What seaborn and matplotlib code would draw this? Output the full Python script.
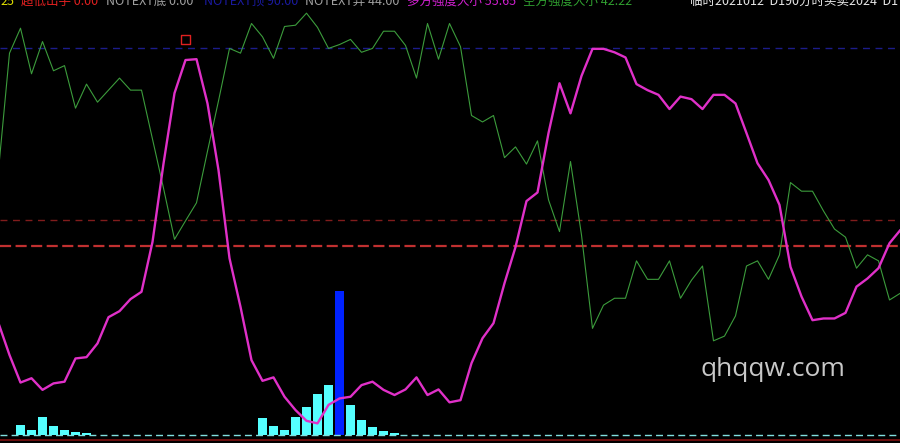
import matplotlib
matplotlib.use("Agg")
import matplotlib.pyplot as plt
import numpy as np
import pandas as pd
import seaborn as sns

# Data
idx = list(range(83))
bull = [26.0, 18.6, 12.2, 13.2, 10.5, 12.0, 12.4, 17.8, 18.1, 21.3,
        27.4, 28.8, 31.6, 33.3, 44.9, 63.1, 79.5, 87.2, 87.4, 77.1,
        61.6, 41.1, 29.8, 17.4, 12.6, 13.4, 8.9, 5.8, 3.3, 2.7,
        7.0, 8.5, 8.9, 11.6, 12.4, 10.5, 9.3, 10.6, 13.4, 9.3,
        10.6, 7.6, 8.1, 16.7, 22.5, 26.0, 35.3, 43.7, 54.4, 56.4,
        70.2, 81.8, 74.8, 83.5, 89.8, 89.8, 89.0, 87.8, 81.6, 80.2,
        79.1, 75.8, 78.7, 78.1, 75.8, 79.1, 79.1, 77.1, 70.2, 63.2,
        59.3, 53.5, 39.1, 32.2, 26.7, 27.1, 27.1, 28.4, 34.5, 36.4,
        38.8, 44.6, 47.7]
bear = [61.6, 88.8, 94.6, 84.0, 91.5, 84.7, 85.9, 76.0, 81.6, 77.4,
        80.2, 83.0, 80.2, 80.2, 68.8, 57.4, 45.5, 49.8, 54.0, 66.0,
        77.7, 89.9, 88.8, 95.7, 92.6, 87.6, 95.0, 95.3, 98.1, 94.8,
        89.9, 90.8, 92.0, 89.0, 89.9, 93.9, 93.9, 90.6, 83.0, 95.7,
        87.4, 95.7, 90.3, 74.3, 72.8, 74.3, 64.5, 67.0, 63.0, 68.4,
        54.7, 47.3, 63.6, 46.5, 24.8, 30.2, 31.8, 31.8, 40.5, 36.2,
        36.2, 40.5, 31.8, 36.0, 39.3, 21.9, 23.0, 27.7, 39.3, 40.5,
        36.2, 41.9, 58.7, 56.7, 56.7, 52.1, 47.9, 46.0, 38.8, 41.9,
        40.5, 31.4, 33.0]
bar_idx = [2, 3, 4, 5, 6, 7, 8, 24, 25, 26, 27, 28, 29, 30, 32, 33, 34, 35, 36]
bar_vals = [2.3, 1.2, 4.1, 2.1, 1.2, 0.7, 0.5, 3.9, 2.1, 1.2, 4.1, 6.6, 9.5, 11.6,
            7.0, 3.5, 1.9, 0.9, 0.5]
big_idx = [31]
big_vals = [33.6]
mark_idx = [17]
mark_vals = [91.9]
ref_levels = [90, 50, 44, 0]

header = [("25", "#e0e000", 0), ("超低出手 0.00", "#e02020", 21),
          ("NOTEXT底 0.00", "#a0a0a0", 106), ("NOTEXT顶 90.00", "#1a1aa0", 204),
          ("NOTEXT弃 44.00", "#a0a0a0", 305), ("多方强度大小 55.65", "#d020d0", 407),
          ("空方强度大小 42.22", "#30a030", 523),
          ("临时2021012  D190分时买卖2024  D1", "#e8e8e8", 690)]

sns.set_style("dark", {"axes.facecolor": "black", "figure.facecolor": "black"})
plt.rcParams['font.family'] = ['Noto Sans CJK SC', 'DejaVu Sans']

fig = plt.figure(figsize=(9, 4.43), dpi=100)
ax = fig.add_axes([0, 0, 1, 1])
ax.set_facecolor("black")

# reference lines
ax.axhline(ref_levels[0], color="#1c1c8a", lw=1, ls=(0, (5, 4)))
ax.axhline(ref_levels[1], color="#801c1c", lw=1, ls=(0, (5, 4)))
ax.axhline(ref_levels[2], color="#c03030", lw=1.6, ls=(0, (5, 2)))
ax.axhline(ref_levels[3], color="#80e0e0", lw=1, ls=(0, (5, 3)))
ax.axhline(-1.16, color="#801010", lw=1.2)

# bars
sns.barplot(x=bar_idx, y=bar_vals, native_scale=True, color="#55ffff",
            saturation=1, width=0.8, errorbar=None, linewidth=0, ax=ax)
sns.barplot(x=big_idx, y=big_vals, native_scale=True, color="#0022ff",
            saturation=1, width=0.8, errorbar=None, linewidth=0, ax=ax)

# lines
df = pd.DataFrame({"k": idx, "bull": bull, "bear": bear})
sns.lineplot(data=df, x="k", y="bear", color="#3c9c3c", lw=0.8, ax=ax)
sns.lineplot(data=df, x="k", y="bull", color="#e030c8", lw=1.7, ax=ax)
sns.scatterplot(x=mark_idx, y=mark_vals, marker="s", s=40, facecolor="none",
                edgecolor="#e02020", linewidth=1, ax=ax)

ax.set_xlim(0.136, 81.955)
ax.set_ylim(-1.86, 101.16)
ax.axis("off")

for txt, col, px in header:
    fig.text(px / 900, 1 - 5 / 443, txt, color=col, fontsize=9, va="baseline", ha="left")

fig.text(773 / 900, 1 - 370 / 443, "qhqqw.com", color="#c8c8c8", fontsize=19,
         family="Open Sans", ha="center", va="center")

fig.savefig("out.png", dpi=100, facecolor="black")
